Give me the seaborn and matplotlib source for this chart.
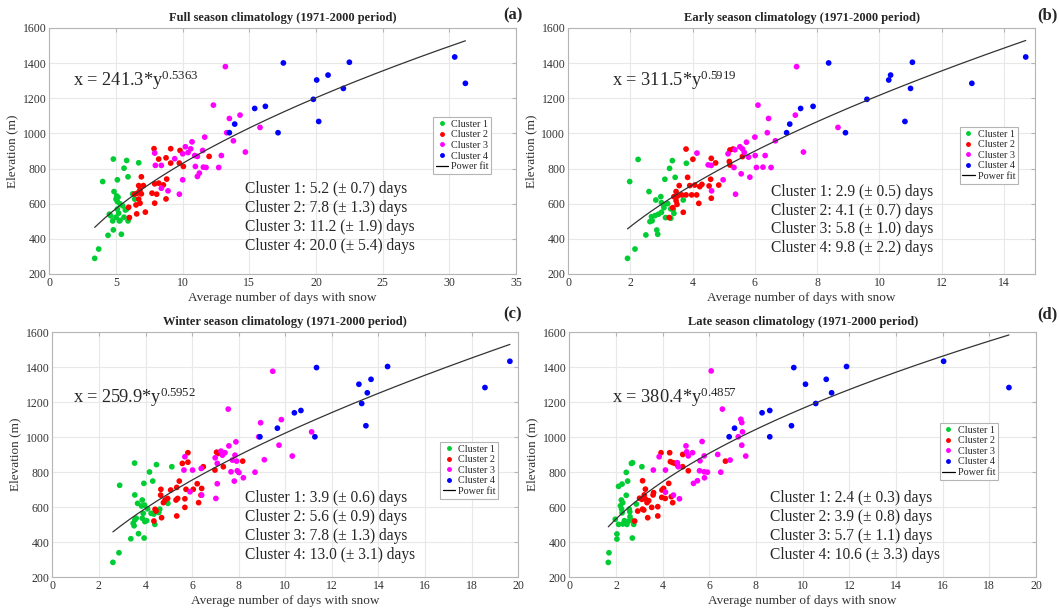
import numpy as np
import pandas as pd
import matplotlib
matplotlib.use("Agg")
import matplotlib.pyplot as plt
from matplotlib.lines import Line2D
import seaborn as sns

# ---------------- DATA ----------------
CLUSTERS = ["Cluster 1", "Cluster 2", "Cluster 3", "Cluster 4"]
COLORS = ["#00cc33", "#ff0000", "#ff00ff", "#0000ff"]

# Panel (a) full season
A1_DAYS = [3.4, 3.7, 4.4, 5.4, 4.8, 4.75, 5.25, 5.9, 4.6, 5.0, 5.6, 5.2, 5.1, 5.8, 5.5, 5.3, 5.1, 5.0, 5.15,
           6.25, 6.4, 4.85, 4.0, 5.1, 5.9, 5.6, 6.7, 4.8, 5.8, 5.05, 5.7, 4.5, 5.3]
A1_ELEV = [289, 342, 420, 426, 451, 502, 502, 502, 531, 523, 523, 546, 569, 569, 588, 599, 612, 626, 637,
           656, 626, 669, 726, 736, 753, 802, 833, 854, 846, 644, 564, 540, 505]
A2_DAYS = [7.85, 9.1, 9.8, 8.2, 8.75, 9.1, 9.75, 10.05, 11.98, 6.9, 6.7, 7.05, 7.9, 8.2, 8.55, 8.8, 6.8, 6.6,
           6.9, 6.4, 7.7, 8.05, 6.7, 6.8, 6.5, 7.9, 8.75, 5.95, 6.55, 7.2, 6.0]
A2_ELEV = [913, 913, 903, 854, 861, 831, 831, 812, 869, 753, 703, 703, 713, 717, 707, 740, 679, 660,
           656, 654, 660, 654, 626, 603, 593, 603, 627, 580, 542, 552, 521]
A3_DAYS = [13.2, 12.3, 13.5, 14.3, 13.3, 13.8, 15.8, 14.7, 10.7, 11.65, 10.2, 10.6, 10.4, 10.0, 10.9, 11.1,
           11.5, 12.9, 7.9, 9.4, 7.95, 8.4, 10.95, 11.55, 11.75, 12.7, 11.25, 11.1, 10.0, 8.4, 8.9, 9.75]
A3_ELEV = [1380, 1161, 1085, 1104, 1004, 958, 1034, 894, 952, 979, 924, 912, 891, 884, 874, 869,
           903, 874, 888, 856, 818, 818, 812, 808, 806, 806, 774, 755, 736, 688, 673, 654]
A4_DAYS = [17.55, 22.5, 30.4, 31.2, 20.05, 20.9, 22.05, 19.8, 20.2, 15.4, 16.2, 13.9, 13.5, 17.15]
A4_ELEV = [1401, 1405, 1435, 1285, 1304, 1332, 1256, 1194, 1068, 1142, 1154, 1053, 1004, 1004]

# Panel (b) early season
B1_DAYS = [1.91, 2.15, 2.5, 2.88, 2.85, 2.63, 2.68, 2.79, 2.9, 3.13, 3.0, 3.08, 3.06, 3.0, 2.82, 2.98, 3.3,
           3.4, 3.3, 3.7, 2.6, 1.98, 3.11, 3.44, 3.26, 3.35, 3.8, 2.25, 2.7, 3.2, 3.38]
B1_ELEV = [289, 342, 422, 426, 450, 498, 526, 532, 540, 521, 551, 577, 593, 606, 621, 640, 570,
           545, 517, 621, 669, 726, 739, 750, 801, 845, 830, 852, 503, 600, 569]
B2_DAYS = [3.79, 4.01, 3.84, 3.57, 3.91, 4.07, 4.23, 4.3, 4.6, 4.74, 4.58, 4.84, 4.53, 5.2, 5.3, 5.18, 5.2,
           5.6, 3.65, 3.47, 3.52, 3.79, 3.97, 4.13, 3.36, 3.5, 3.47, 4.2, 4.6, 3.25, 3.7, 3.4]
B2_ELEV = [911, 853, 750, 703, 703, 706, 697, 710, 858, 832, 739, 706, 701, 906, 911, 840, 820,
           868, 650, 669, 644, 650, 650, 650, 577, 596, 617, 602, 631, 521, 551, 640]
B3_DAYS = [7.34, 6.1, 6.44, 7.3, 6.4, 6.66, 8.67, 7.56, 6.0, 5.73, 5.52, 5.6, 5.36, 5.14, 5.66, 5.8, 6.01,
           6.33, 6.05, 6.26, 6.52, 4.14, 4.5, 4.6, 5.33, 4.98, 5.56, 5.84, 4.61, 5.38]
B3_ELEV = [1380, 1161, 1085, 1104, 1004, 958, 1034, 894, 979, 950, 924, 912, 907, 884, 892, 865, 874,
           874, 806, 808, 806, 888, 821, 818, 806, 736, 770, 751, 673, 654]
B4_DAYS = [8.37, 11.06, 14.7, 12.97, 10.3, 10.36, 11.0, 9.6, 10.82, 7.47, 7.87, 7.12, 7.02, 8.91]
B4_ELEV = [1401, 1405, 1435, 1285, 1304, 1332, 1256, 1194, 1068, 1142, 1154, 1053, 1004, 1004]

# Panel (c) winter season
C1_DAYS = [2.6, 2.86, 3.37, 3.94, 3.7, 3.51, 3.47, 3.54, 3.6, 3.86, 3.97, 4.4, 3.9, 4.24, 4.36, 4.09, 3.96,
           3.83, 4.57, 4.61, 4.96, 3.66, 3.86, 3.54, 2.89, 3.93, 4.31, 4.17, 5.13, 3.53, 4.47, 4.05]
C1_ELEV = [285, 340, 420, 424, 449, 494, 508, 527, 537, 537, 518, 502, 565, 565, 561, 591, 612,
           607, 570, 589, 622, 622, 641, 670, 725, 736, 749, 801, 831, 852, 843, 523]
C2_DAYS = [5.82, 5.58, 5.82, 6.05, 6.22, 6.48, 6.41, 6.38, 6.28, 6.98, 7.12, 7.05, 7.34, 8.17, 5.69, 5.74,
           5.34, 5.38, 5.31, 5.45, 5.08, 4.95, 4.84, 4.77, 4.65, 4.66, 4.41, 4.36, 4.69, 5.69, 5.34, 4.45]
C2_ELEV = [911, 850, 857, 702, 734, 831, 707, 669, 626, 812, 907, 914, 831, 863, 648, 702,
           713, 650, 641, 749, 698, 650, 641, 626, 669, 702, 588, 521, 540, 599, 550, 578]
C3_DAYS = [9.46, 7.55, 8.94, 9.83, 8.86, 9.73, 11.13, 10.3, 7.58, 7.24, 7.41, 7.3, 6.99, 7.08, 7.84, 7.88,
           7.73, 7.91, 7.94, 8.01, 7.67, 7.81, 8.2, 8.7, 9.1, 5.69, 5.65, 6.02, 6.39, 6.41, 5.91, 7.08, 7.02]
C3_ELEV = [1376, 1160, 1082, 1100, 1002, 954, 1030, 892, 950, 920, 911, 897, 882, 850, 897, 973,
           869, 863, 808, 798, 802, 749, 768, 800, 871, 888, 812, 812, 821, 669, 688, 734, 650]
C4_DAYS = [11.34, 14.39, 19.64, 18.57, 13.16, 13.68, 13.52, 13.28, 13.46, 10.39, 10.67, 9.66, 8.91, 11.27]
C4_ELEV = [1397, 1403, 1433, 1283, 1302, 1330, 1253, 1192, 1065, 1139, 1152, 1051, 1002, 1002]

# Panel (d) late season
D1_DAYS = [1.67, 1.7, 2.04, 2.7, 2.04, 1.97, 2.11, 2.29, 2.36, 2.47, 2.57, 2.64, 2.76, 2.6, 2.59, 2.57,
           2.87, 2.26, 2.19, 2.29, 2.23, 2.44, 2.11, 2.26, 2.5, 2.44, 3.11, 2.66, 2.71, 2.24]
D1_ELEV = [285, 340, 418, 424, 447, 531, 502, 504, 523, 502, 523, 527, 502, 546, 574, 589,
           618, 568, 608, 626, 641, 668, 719, 732, 749, 799, 831, 850, 854, 590]
D2_DAYS = [3.93, 4.3, 4.86, 4.33, 4.44, 4.54, 4.64, 4.86, 5.1, 3.14, 4.26, 4.04, 3.97, 3.61, 3.26, 3.59,
           3.21, 3.26, 3.01, 3.11, 3.4, 3.96, 4.11, 4.37, 3.79, 3.53, 3.19, 3.33, 2.93, 3.14, 3.36, 3.79,
           4.43, 2.8, 6.69]
D2_ELEV = [911, 911, 901, 860, 854, 850, 840, 831, 808, 751, 736, 707, 698, 683, 703, 670,
           670, 647, 651, 645, 637, 656, 650, 660, 603, 599, 584, 626, 578, 589, 540, 550,
           626, 521, 863]
D3_DAYS = [6.08, 6.56, 7.35, 7.39, 7.42, 7.24, 7.39, 7.56, 5.69, 5.0, 5.03, 5.1, 5.28, 4.63, 4.67, 3.85,
           4.12, 3.6, 5.78, 5.6, 6.36, 6.89, 5.58, 5.78, 5.92, 6.49, 5.79, 5.49, 5.32, 4.12, 4.46, 4.72]
D3_ELEV = [1378, 1160, 1102, 1083, 1030, 1002, 954, 892, 975, 950, 916, 893, 911, 854, 831, 888,
           812, 812, 893, 865, 901, 869, 808, 802, 800, 800, 768, 751, 736, 686, 669, 648]
D4_DAYS = [9.62, 11.88, 16.04, 18.84, 10.12, 11.01, 11.24, 10.56, 9.52, 8.26, 8.59, 7.08, 6.85, 8.59]
D4_ELEV = [1397, 1403, 1433, 1283, 1302, 1330, 1253, 1192, 1065, 1139, 1152, 1051, 1002, 1002]

# Power-fit coefficients (elevation = a * days^b) as printed on each panel
FIT_A = [241.3, 311.5, 259.9, 380.4]
FIT_B = [0.5363, 0.5919, 0.5952, 0.4857]

TITLES = ["Full season climatology (1971-2000 period)",
          "Early season climatology (1971-2000 period)",
          "Winter season climatology (1971-2000 period)",
          "Late season climatology (1971-2000 period)"]
PANEL_TAGS = ["(a)", "(b)", "(c)", "(d)"]
CLUSTER_TEXT = [
    ["Cluster 1: 5.2 (\u00b1 0.7) days", "Cluster 2: 7.8 (\u00b1 1.3) days",
     "Cluster 3: 11.2 (\u00b1 1.9) days", "Cluster 4: 20.0 (\u00b1 5.4) days"],
    ["Cluster 1: 2.9 (\u00b1 0.5) days", "Cluster 2: 4.1 (\u00b1 0.7) days",
     "Cluster 3: 5.8 (\u00b1 1.0) days", "Cluster 4: 9.8 (\u00b1 2.2) days"],
    ["Cluster 1: 3.9 (\u00b1 0.6) days", "Cluster 2: 5.6 (\u00b1 0.9) days",
     "Cluster 3: 7.8 (\u00b1 1.3) days", "Cluster 4: 13.0 (\u00b1 3.1) days"],
    ["Cluster 1: 2.4 (\u00b1 0.3) days", "Cluster 2: 3.9 (\u00b1 0.8) days",
     "Cluster 3: 5.7 (\u00b1 1.1) days", "Cluster 4: 10.6 (\u00b1 3.3) days"],
]
X_MAX = [35, 15, 20, 20]
X_TICKS = [list(range(0, 36, 5)), list(range(0, 15, 2)), list(range(0, 21, 2)), list(range(0, 21, 2))]
Y_TICKS = list(range(200, 1601, 200))

PANEL_DATA = [
    [(A1_DAYS, A1_ELEV), (A2_DAYS, A2_ELEV), (A3_DAYS, A3_ELEV), (A4_DAYS, A4_ELEV)],
    [(B1_DAYS, B1_ELEV), (B2_DAYS, B2_ELEV), (B3_DAYS, B3_ELEV), (B4_DAYS, B4_ELEV)],
    [(C1_DAYS, C1_ELEV), (C2_DAYS, C2_ELEV), (C3_DAYS, C3_ELEV), (C4_DAYS, C4_ELEV)],
    [(D1_DAYS, D1_ELEV), (D2_DAYS, D2_ELEV), (D3_DAYS, D3_ELEV), (D4_DAYS, D4_ELEV)],
]

# ---------------- STYLE ----------------
sns.set_style("whitegrid")
plt.rcParams["font.family"] = ["Liberation Serif", "DejaVu Serif"]
plt.rcParams["mathtext.fontset"] = "custom"
plt.rcParams["mathtext.rm"] = "Liberation Serif"
plt.rcParams["mathtext.it"] = "Liberation Serif"

fig = plt.figure(figsize=(10.59, 6.11), dpi=100)

AX_POS = [
    [0.0466, 0.5516, 0.4407, 0.4026],
    [0.5364, 0.5516, 0.4410, 0.4026],
    [0.0494, 0.0552, 0.4400, 0.4014],
    [0.5376, 0.0552, 0.4407, 0.4014],
]
EQ_POS = [(0.051, 0.789), (0.094, 0.789), (0.045, 0.735), (0.091, 0.735)]
TXT_POS = [(0.419, [0.345, 0.268, 0.191, 0.114]),
           (0.435, [0.333, 0.256, 0.183, 0.106]),
           (0.413, [0.323, 0.246, 0.168, 0.091]),
           (0.431, [0.323, 0.246, 0.168, 0.091])]
LEG_POS = [(0.822, 0.638), (0.839, 0.598), (0.832, 0.552), (0.794, 0.629)]
TAG_POS = [(513, 15), (1047, 15), (513, 314), (1047, 314)]

for i in range(4):
    ax = fig.add_axes(AX_POS[i])
    rows = []
    for k, (d, e) in enumerate(PANEL_DATA[i]):
        for dv, ev in zip(d, e):
            rows.append({"days": dv, "elev": ev, "cluster": CLUSTERS[k]})
    df = pd.DataFrame(rows)
    sns.scatterplot(data=df, x="days", y="elev", hue="cluster", hue_order=CLUSTERS,
                    palette=COLORS, s=17, linewidth=0, ax=ax, legend=False, zorder=3)
    alld = df["days"].to_numpy()
    xs = np.linspace(alld.min(), alld.max(), 200)
    ys = FIT_A[i] * xs ** FIT_B[i]
    sns.lineplot(x=xs, y=ys, color="#333333", linewidth=0.9, ax=ax, zorder=4)

    ax.set_xlim(0, X_MAX[i])
    ax.set_ylim(200, 1600)
    ax.set_xticks(X_TICKS[i])
    ax.set_yticks(Y_TICKS)
    ax.grid(True, color="#e8e8e8", linewidth=0.8)
    for sp in ax.spines.values():
        sp.set_color("#b5b5b5")
        sp.set_linewidth(0.8)
    ax.tick_params(axis="both", labelsize=8.5, colors="#333333", direction="in",
                   length=3, top=True, right=True, pad=2)
    ax.tick_params(axis="both", color="#b5b5b5")
    ax.set_xlabel("Average number of days with snow", fontsize=9.5, color="#333333", labelpad=2)
    ax.set_ylabel("Elevation (m)", fontsize=9.5, color="#333333", labelpad=3)
    ax.set_title(TITLES[i], fontsize=9, fontweight="bold", pad=5)

    ax.text(EQ_POS[i][0], EQ_POS[i][1],
            "x = %.1f*y$^{%.4f}$" % (FIT_A[i], FIT_B[i]),
            transform=ax.transAxes, fontsize=13.2, va="center", ha="left")
    tx, tys = TXT_POS[i]
    for line, ty in zip(CLUSTER_TEXT[i], tys):
        ax.text(tx, ty, line, transform=ax.transAxes, fontsize=11.2, va="center", ha="left")

    handles = [Line2D([], [], marker="o", linestyle="none", markersize=2.5,
                      markerfacecolor=c, markeredgecolor=c) for c in COLORS]
    handles.append(Line2D([], [], color="black", linewidth=0.9))
    leg = ax.legend(handles, CLUSTERS + ["Power fit"], loc="upper left",
                    bbox_to_anchor=LEG_POS[i], fontsize=7.3, frameon=True, fancybox=False,
                    framealpha=1, edgecolor="#b5b5b5", handlelength=1.2, handletextpad=0.3,
                    borderpad=0.25, labelspacing=0.15, borderaxespad=0)
    leg.get_frame().set_linewidth(0.8)

    fig.text(TAG_POS[i][0] / 1059, 1 - TAG_POS[i][1] / 611, PANEL_TAGS[i],
             fontsize=12, fontweight="bold", ha="center", va="center")

fig.savefig("out.png", dpi=100, facecolor="white")
